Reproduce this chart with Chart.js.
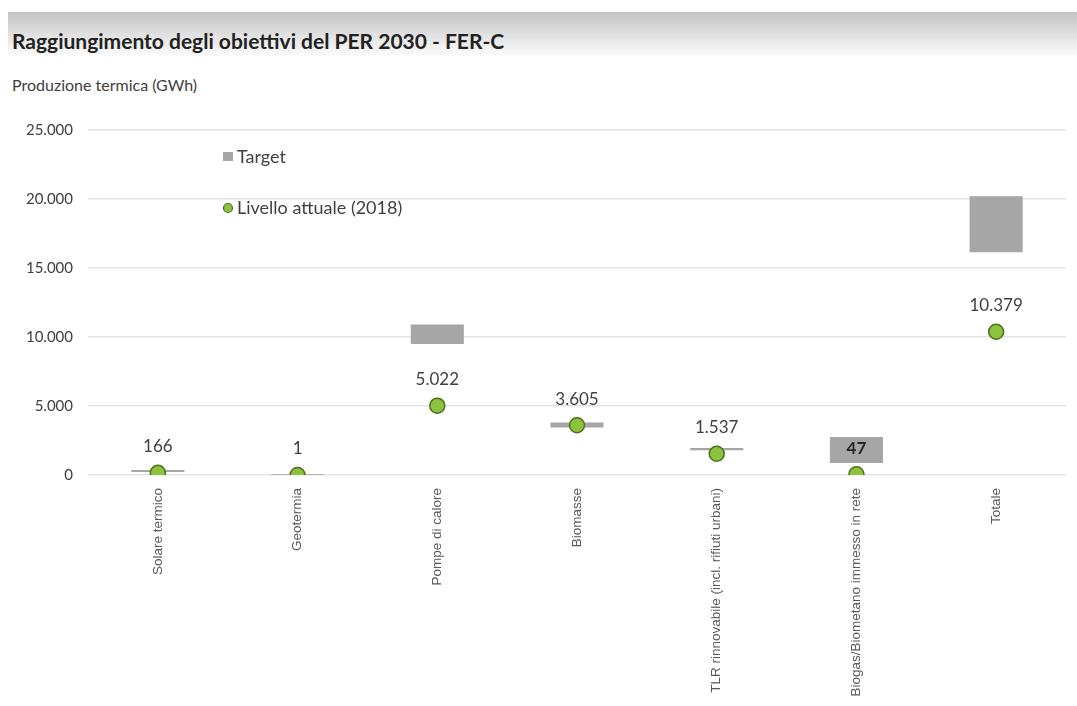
<!DOCTYPE html>
<html>
<head>
<meta charset="utf-8">
<script src="https://cdn.jsdelivr.net/npm/chart.js@4.4.1/dist/chart.umd.min.js"></script>
<style>
  body { margin: 0; width: 1077px; height: 706px; overflow: hidden; background: #fff; position: relative; }
  .band { position: absolute; left: 8px; right: 0; top: 12px; height: 46px; background: linear-gradient(#c3c3c3, #ffffff); }
  .title { position: absolute; left: 12px; top: 28px; font: bold 21px Lato, sans-serif; color: #222; }
  .subtitle { position: absolute; left: 12px; top: 75px; font: 16px Lato, sans-serif; color: #404040; }
  canvas { position: absolute; left: 0; top: 0; }
</style>
</head>
<body>
<div class="band"></div>
<div class="title">Raggiungimento degli obiettivi del PER 2030 - FER-C</div>
<div class="subtitle">Produzione termica (GWh)</div>
<canvas id="perChart" width="1077" height="706"></canvas>
<script>
const categories = [
    'Solare termico',
    'Geotermia',
    'Pompe di calore',
    'Biomasse',
    'TLR rinnovabile (incl. rifiuti urbani)',
    'Biogas/Biometano immesso in rete',
    'Totale'
];
// target range (floating bar) low / high, GWh
const targetLow = [220, 10, 9500, 3450, 1800, 870, 16150];
const targetHigh = [360, 80, 10900, 3800, 1950, 2750, 20200];
// livello attuale 2018, GWh
const livello2018 = [166, 1, 5022, 3605, 1537, 47, 10379];
const yMin = 0;
const yMax = 25000;
const yStep = 5000;

function fmt(v) {
    return String(v).replace(/\B(?=(\d{3})+(?!\d))/g, '.');
}

const pointLabels = {
    id: 'pointLabels',
    afterDatasetsDraw(chart) {
        const ctx = chart.ctx;
        const meta = chart.getDatasetMeta(1);
        ctx.save();
        ctx.textAlign = 'center';
        ctx.textBaseline = 'middle';
        meta.data.forEach((pt, i) => {
            // the label inside the Biogas box is bold in the original
            ctx.font = (i === 5 ? 'bold ' : '') + '17px Lato, sans-serif';
            ctx.fillStyle = i === 5 ? '#262626' : '#404040';
            ctx.fillText(fmt(livello2018[i]), pt.x, pt.y - 26);
        });
        ctx.restore();
    }
};

const innerLegend = {
    id: 'innerLegend',
    afterDraw(chart) {
        const ctx = chart.ctx;
        ctx.save();
        ctx.font = '18px Lato, sans-serif';
        ctx.textBaseline = 'middle';
        ctx.fillStyle = '#a6a6a6';
        ctx.fillRect(223, 152, 10, 9);
        ctx.fillStyle = '#404040';
        ctx.fillText('Target', 237, 157);
        ctx.beginPath();
        ctx.arc(228, 208, 4.5, 0, Math.PI * 2);
        ctx.fillStyle = '#8dc23f';
        ctx.fill();
        ctx.lineWidth = 1.2;
        ctx.strokeStyle = '#4f6e1c';
        ctx.stroke();
        ctx.fillStyle = '#404040';
        ctx.fillText('Livello attuale (2018)', 237, 208);
        ctx.restore();
    }
};

const ctx = document.getElementById('perChart');

new Chart(ctx, {
    data: {
        labels: categories,
        datasets: [
            {
                type: 'bar',
                label: 'Target',
                data: targetLow.map((v, i) => [v, targetHigh[i]]),
                backgroundColor: '#a6a6a6',
                borderWidth: 0,
                categoryPercentage: 1,
                barPercentage: 0.38,
                order: 2
            },
            {
                type: 'line',
                label: 'Livello attuale (2018)',
                data: livello2018,
                showLine: false,
                pointRadius: 7.5,
                pointBackgroundColor: '#8dc23f',
                pointBorderColor: '#4f6e1c',
                pointBorderWidth: 1.5,
                order: 1
            }
        ]
    },
    options: {
        responsive: false,
        devicePixelRatio: 1,
        animation: false,
        layout: { padding: { top: 130, right: 11, left: 0, bottom: 0 } },
        plugins: {
            legend: { display: false },
            tooltip: { enabled: false }
        },
        scales: {
            x: {
                grid: { display: false },
                border: { display: false },
                ticks: {
                    autoSkip: false,
                    minRotation: 90,
                    maxRotation: 90,
                    padding: 5,
                    color: '#595959',
                    font: { family: 'Liberation Sans', size: 13.5 }
                },
                afterFit(scale) { scale.height = 231; }
            },
            y: {
                min: yMin,
                max: yMax,
                grid: { color: '#e3e3e3', lineWidth: 1.5, drawTicks: false },
                border: { display: false },
                ticks: {
                    stepSize: yStep,
                    padding: 15,
                    color: '#404040',
                    font: { family: 'Lato', size: 15 },
                    callback: v => fmt(v)
                },
                afterFit(scale) { scale.width = 88; }
            }
        }
    },
    plugins: [pointLabels, innerLegend]
});
</script>
</body>
</html>
